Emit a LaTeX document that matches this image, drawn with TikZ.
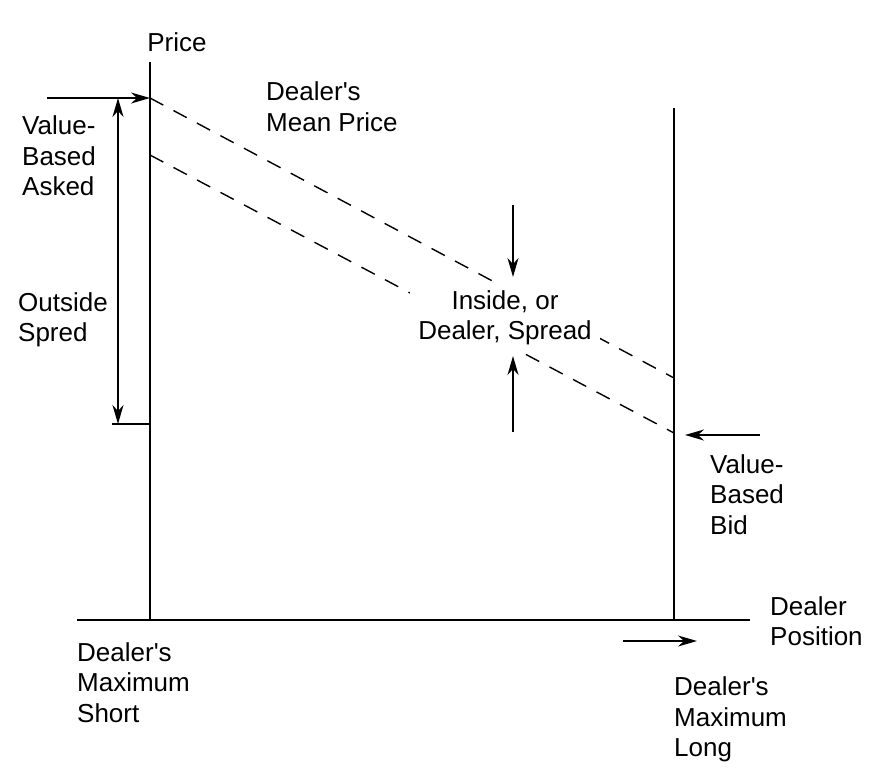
\documentclass[tikz,border=0pt]{standalone}
\usepackage{fontspec}
\setmainfont{Liberation Sans}
\usetikzlibrary{arrows.meta}
\tikzset{
    >={Stealth[length=19pt,width=11pt,inset=6pt]},
    lbl/.style={font=\fontsize{26}{30.5}\selectfont, align=left, inner sep=0pt, anchor=west},
    axis/.style={line width=1.6pt},
    arr/.style={line width=1.5pt, ->},
    quote/.style={line width=1.4pt, dash pattern=on 15pt off 11.6pt},
}

\begin{document}
\begin{tikzpicture}[x=1pt,y=-1pt]
\useasboundingbox (0,0) rectangle (880,777);
% axes
\coordinate (xstart) at (77,620);
\coordinate (xend) at (750,620);
\coordinate (O) at (150,620);
\coordinate (ptop) at (150,62);
\coordinate (R) at (674,620);
\coordinate (Rtop) at (674,108);
\draw[axis] (xstart) -- (xend);
\draw[axis] (O) -- (ptop);
\draw[axis] (R) -- (Rtop);
% asked and bid lines
\coordinate (askL) at (150,98);
\coordinate (askR) at (674,378);
\coordinate (bidL) at (150,155);
\coordinate (bidR) at (674,433);
\draw[quote] (askL) -- (askR);
\draw[quote] (bidL) -- (bidR);
\node[lbl, anchor=center, align=center, fill=white, inner sep=8pt] (inside) at (505,318) {Inside, or\\Dealer, Spread};
% arrows
\coordinate (askin) at (47,98);
\draw[arr] (askin) -- (askL);
\coordinate (otop) at (118,98);
\coordinate (obot) at (118,424);
\draw[arr, <->] (otop) -- (obot);
\coordinate (tickL) at (112,424);
\draw[axis] (tickL) -- (tickL -| O);
\coordinate (dn1) at (513,205);
\coordinate (dn2) at (513,277);
\draw[arr] (dn1) -- (dn2);
\coordinate (up1) at (513,432);
\coordinate (up2) at (513,356);
\draw[arr] (up1) -- (up2);
\coordinate (bidin) at (760,435);
\coordinate (bidtip) at (685,435);
\draw[arr] (bidin) -- (bidtip);
\coordinate (pos1) at (623,641);
\coordinate (pos2) at (697,641);
\draw[arr] (pos1) -- (pos2);
% labels
\node[lbl, anchor=center] (price) at (177,42.5) {Price};
\node[lbl] (meanlbl) at (266,106.5) {Dealer\textquotesingle s\\Mean Price};
\node[lbl] (asklbl) at (22,156) {Value-\\Based\\Asked};
\node[lbl] (outlbl) at (18,320) {Outside\\Spred};
\node[lbl] (bidlbl) at (710,494.5) {Value-\\Based\\Bid};
\node[lbl] (poslbl) at (770,621) {Dealer\\Position};
\node[lbl] (shortlbl) at (77,682.5) {Dealer\textquotesingle s\\Maximum\\Short};
\node[lbl] (longlbl) at (674,719.5) {Dealer\textquotesingle s\\Maximum\\Long};
\end{tikzpicture}
\end{document}
